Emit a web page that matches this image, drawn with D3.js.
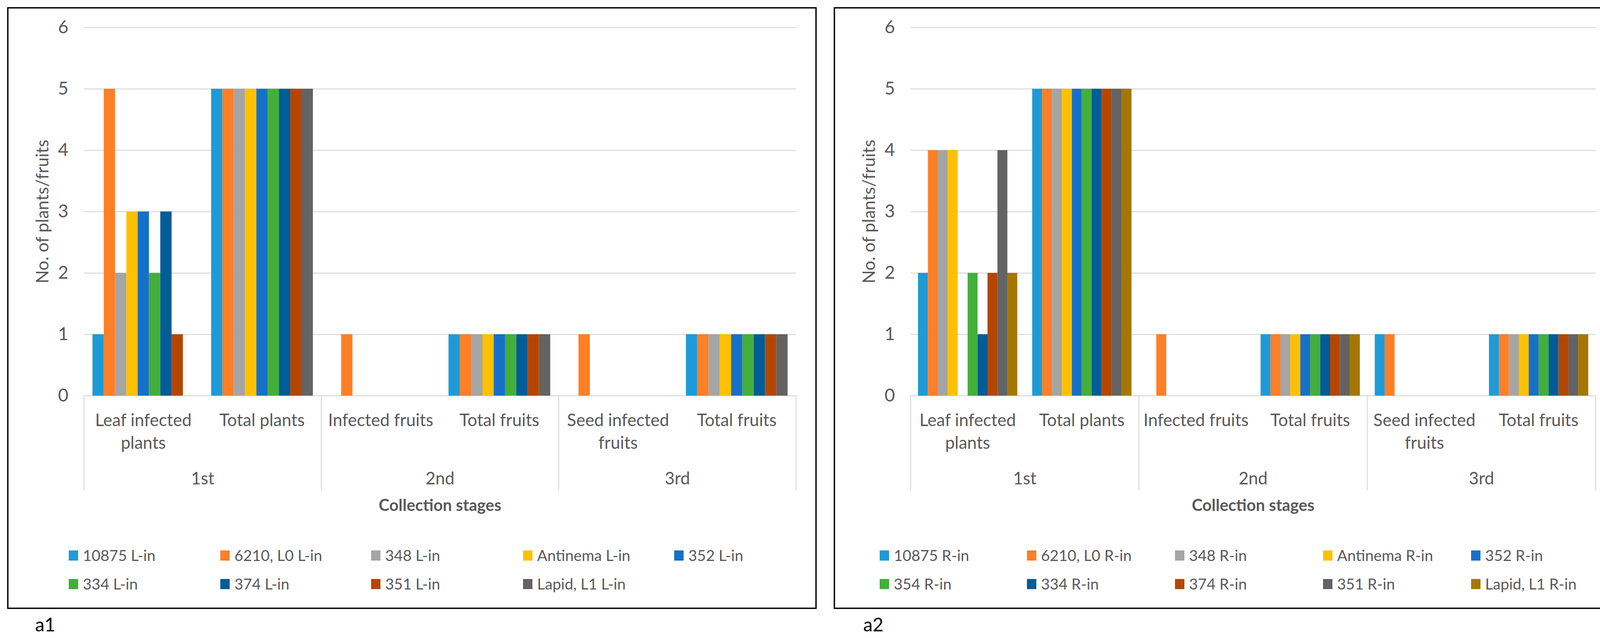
<!DOCTYPE html>
<html>
<head>
<meta charset="utf-8">
<script src="https://cdn.jsdelivr.net/npm/d3@7"></script>
<style>
  body { margin: 0; background: #fff; }
  text { font-family: Lato, "Open Sans", sans-serif; fill: #595959; }
</style>
</head>
<body>
<div id="canvas"></div>
<script>
// ---- data ----
const stages = ["1st", "2nd", "3rd"];
const categoryLines = [
  ["Leaf infected", "plants"],
  ["Total plants"],
  ["Infected fruits"],
  ["Total fruits"],
  ["Seed infected", "fruits"],
  ["Total fruits"]
];
const yTicks = [0, 1, 2, 3, 4, 5, 6];

const seriesA1 = ["10875 L-in", "6210, L0 L-in", "348 L-in", "Antinema L-in", "352 L-in",
                  "334 L-in", "374 L-in", "351 L-in", "Lapid, L1 L-in"];
const valuesA1 = [
  [1, 5, 0, 1, 0, 1],
  [5, 5, 1, 1, 1, 1],
  [2, 5, 0, 1, 0, 1],
  [3, 5, 0, 1, 0, 1],
  [3, 5, 0, 1, 0, 1],
  [2, 5, 0, 1, 0, 1],
  [3, 5, 0, 1, 0, 1],
  [1, 5, 0, 1, 0, 1],
  [0, 5, 0, 1, 0, 1]
];
const colorsA1 = ["#1e9bd7", "#fe7f26", "#a5a5a5", "#ffc000", "#1770c8",
                  "#43af3a", "#015c97", "#b54600", "#636363"];

const seriesA2 = ["10875 R-in", "6210, L0 R-in", "348 R-in", "Antinema R-in", "352 R-in",
                  "354 R-in", "334 R-in", "374 R-in", "351 R-in", "Lapid, L1 R-in"];
const valuesA2 = [
  [2, 5, 0, 1, 1, 1],
  [4, 5, 1, 1, 1, 1],
  [4, 5, 0, 1, 0, 1],
  [4, 5, 0, 1, 0, 1],
  [0, 5, 0, 1, 0, 1],
  [2, 5, 0, 1, 0, 1],
  [1, 5, 0, 1, 0, 1],
  [2, 5, 0, 1, 0, 1],
  [4, 5, 0, 1, 0, 1],
  [2, 5, 0, 1, 0, 1]
];
const colorsA2 = ["#1e9bd7", "#fe7f26", "#a5a5a5", "#ffc000", "#1770c8",
                  "#43af3a", "#015c97", "#b54600", "#636363", "#a67700"];

const width = 4150, height = 1632;
const gridColor = "#d9d9d9";

const svg = d3.select("#canvas").append("svg")
  .attr("width", width)
  .attr("height", height);

svg.append("rect").attr("width", width).attr("height", height).attr("fill", "#fff");

//Pick a font size so that a sample string takes the width seen in the picture
function fitSize(sample, targetWidth, weight) {
  const t = svg.append("text")
    .style("font-size", "100px")
    .style("font-weight", weight || "normal")
    .text(sample);
  const w = t.node().getComputedTextLength();
  t.remove();
  return 100 * targetWidth / w;
}

const catSize = fitSize("Leaf infected", 247);
const legendSize = fitSize("10875 L-in", 186);
const titleSize = fitSize("No. of plants/fruits", 368);
const boldSize = fitSize("Collection stages", 314, "bold");
const tickSize = catSize * 1.05;

//Draw one framed bar chart panel
function drawPanel(cfg) {
  const {frame, plotL, plotR, series, values, colors, legendX, panelLabel, labelX} = cfg;
  const y0 = 1012, yTop = 70;

  svg.append("rect")
    .attr("x", frame[0]).attr("y", frame[1])
    .attr("width", frame[2] - frame[0]).attr("height", frame[3] - frame[1])
    .attr("fill", "none").attr("stroke", "#000").attr("stroke-width", 3.5);

  const y = d3.scaleLinear().domain([0, 6]).range([y0, yTop]);
  const x0 = d3.scaleBand().domain(d3.range(categoryLines.length)).range([plotL, plotR]).padding(0);
  const bw = x0.bandwidth();
  const gap = bw * 1.5 / (series.length + 1.5);
  const x1 = d3.scaleBand().domain(d3.range(series.length)).range([gap / 2, bw - gap / 2]).padding(0);

  //Gridlines and value labels
  const yAxis = svg.append("g")
    .attr("transform", `translate(${plotL},0)`)
    .call(d3.axisLeft(y).tickValues(yTicks).tickFormat(d3.format("d"))
      .tickSize(-(plotR - plotL)).tickPadding(40));
  yAxis.select(".domain").remove();
  yAxis.selectAll("line").attr("stroke", gridColor).attr("stroke-width", 2.5);
  yAxis.selectAll("text")
    .style("font-family", "Lato, sans-serif")
    .style("font-size", tickSize + "px")
    .attr("fill", "#595959");

  svg.append("text")
    .attr("transform", `translate(${cfg.titleX},${(y0 + yTop) / 2}) rotate(-90)`)
    .attr("text-anchor", "middle")
    .attr("dy", "0.35em")
    .style("font-size", titleSize + "px")
    .text("No. of plants/fruits");

  //Bars
  const groups = svg.append("g").selectAll("g")
    .data(series)
    .enter().append("g")
      .attr("fill", (d, i) => colors[i]);

  groups.selectAll("rect")
    .data((d, i) => values[i].map((v, c) => ({v, c, s: i})))
    .enter().append("rect")
      .attr("x", d => x0(d.c) + x1(d.s))
      .attr("width", x1.bandwidth())
      .attr("y", d => y(d.v))
      .attr("height", d => y0 - y(d.v));

  //Multi-level category axis
  const sepBottom = 1254;
  const bounds = [0, 2, 4].map(c => x0(c)).concat([plotR]);
  svg.append("g").selectAll("line")
    .data(bounds)
    .enter().append("line")
      .attr("x1", d => d).attr("x2", d => d)
      .attr("y1", y0).attr("y2", sepBottom)
      .attr("stroke", gridColor).attr("stroke-width", 2.5);

  categoryLines.forEach((lines, c) => {
    const t = svg.append("text")
      .attr("text-anchor", "middle")
      .style("font-size", catSize + "px");
    lines.forEach((ln, k) => {
      t.append("tspan")
        .attr("x", x0(c) + bw / 2)
        .attr("y", 1075 + k * 58)
        .attr("dy", "0.35em")
        .text(ln);
    });
  });

  svg.append("g").selectAll("text")
    .data(stages)
    .enter().append("text")
      .attr("x", (d, i) => x0(i * 2) + bw)
      .attr("y", 1224)
      .attr("dy", "0.35em")
      .attr("text-anchor", "middle")
      .style("font-size", catSize + "px")
      .text(d => d);

  svg.append("text")
    .attr("x", (plotL + plotR) / 2)
    .attr("y", 1292)
    .attr("dy", "0.35em")
    .attr("text-anchor", "middle")
    .style("font-size", boldSize + "px")
    .style("font-weight", "bold")
    .text("Collection stages");

  //Legend, two rows of five
  const legend = svg.append("g").selectAll("g")
    .data(series)
    .enter().append("g")
      .attr("transform", (d, i) => `translate(${legendX[i % 5]},${i < 5 ? 1421 : 1494})`);

  legend.append("rect")
    .attr("x", 0).attr("y", -13)
    .attr("width", 24).attr("height", 26)
    .attr("fill", (d, i) => colors[i]);

  legend.append("text")
    .attr("x", 36)
    .attr("dy", "0.35em")
    .style("font-size", legendSize + "px")
    .text(d => d);

  svg.append("text")
    .attr("x", labelX)
    .attr("y", 1615)
    .style("font-size", "48px")
    .style("fill", "#000")
    .text(panelLabel);
}

drawPanel({
  frame: [20, 20, 2089, 1556],
  plotL: 215, plotR: 2038,
  titleX: 109,
  series: seriesA1, values: valuesA1, colors: colorsA1,
  legendX: [176, 564, 950, 1339, 1726],
  panelLabel: "a1", labelX: 90
});

drawPanel({
  frame: [2136, 20, 4136, 1556],
  plotL: 2331, plotR: 4085,
  titleX: 2225,
  series: seriesA2, values: valuesA2, colors: colorsA2,
  legendX: [2252, 2629, 3008, 3387, 3766],
  panelLabel: "a2", labelX: 2210
});
</script>
</body>
</html>
